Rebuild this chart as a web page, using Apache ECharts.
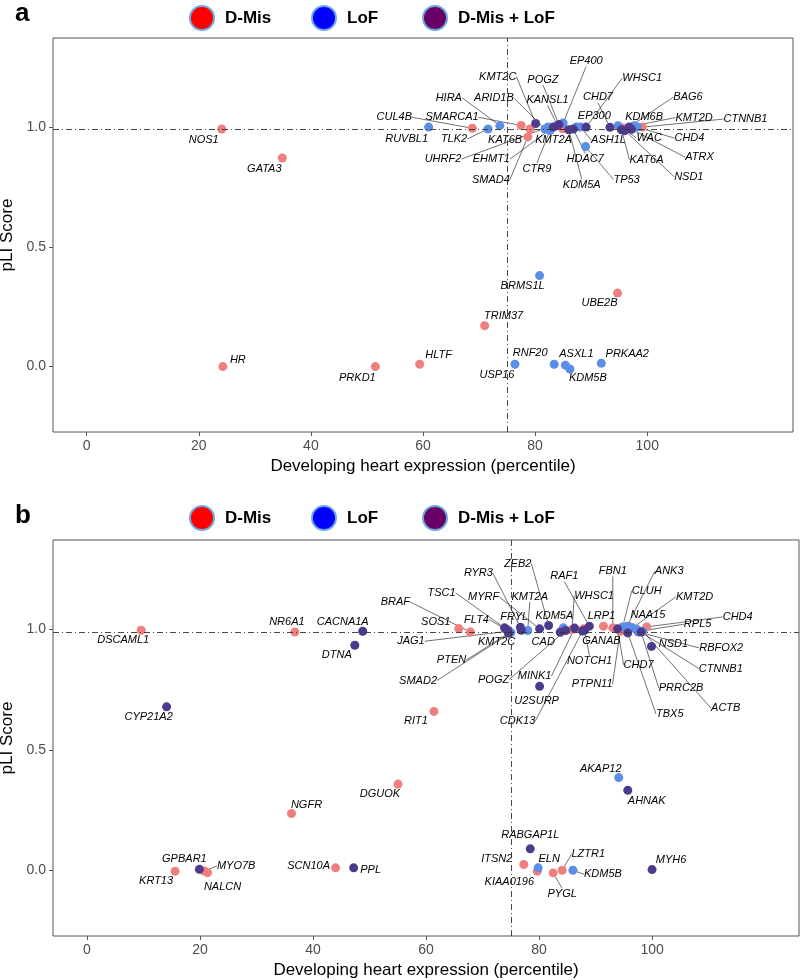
<!DOCTYPE html>
<html>
<head>
<meta charset="utf-8">
<script src="https://cdn.jsdelivr.net/npm/echarts@6/dist/echarts.min.js"></script>
<style>
  html, body { margin: 0; padding: 0; background: #fff; }
  #chart { width: 800px; height: 980px; }
</style>
</head>
<body>
<div id="chart"></div>
<script>
const M = 'D-Mis', L = 'LoF', B = 'D-Mis + LoF';
const classes = [M, L, B];
const xTicks = [0, 20, 40, 60, 80, 100];
const yTicks = [0, 0.5, 1.0];
const pliCutoff = 0.99;
const expressionCutoff = 75;

// panel a
const genesA = ['NOS1', 'GATA3', 'HR', 'PRKD1', 'HLTF', 'TRIM37', 'BRMS1L', 'UBE2B', 'USP16', 'RNF20',
  'ASXL1', 'KDM5B', 'PRKAA2', 'RUVBL1', 'CUL4B', 'TLK2', 'HIRA', 'SMARCA1', 'KMT2C', 'KAT6B',
  'SMAD4', 'ARID1B', 'UHRF2', 'EHMT1', 'KANSL1', 'POGZ', 'EP400', 'KMT2A', 'CTR9', 'KDM5A',
  'HDAC7', 'EP300', 'ASH1L', 'WHSC1', 'TP53', 'CHD7', 'KDM6B', 'KAT6A', 'WAC', 'NSD1',
  'BAG6', 'ATRX', 'KMT2D', 'CHD4', 'CTNNB1'];
const exprA = [24.1, 34.9, 24.3, 51.5, 59.4, 71.0, 80.8, 94.7, 76.4, 83.4,
  85.4, 86.2, 91.8, 61.0, 68.8, 71.6, 73.7, 77.5, 80.1, 79.1,
  78.7, 81.75, 82.3, 83.25, 84.0, 84.25, 85.0, 84.9, 82.65, 86.0,
  86.8, 87.35, 88.1, 89.1, 89.0, 93.35, 94.8, 95.4, 95.7, 96.0,
  96.75, 97.2, 97.65, 98.25, 99.15];
const pliA = [0.992, 0.871, 0.0, 0.0, 0.01, 0.171, 0.38, 0.307, 0.01, 0.01,
  0.006, -0.01, 0.014, 1.0, 0.995, 0.992, 1.006, 1.007, 1.015, 0.992,
  0.959, 0.992, 1.0, 1.0, 1.006, 1.011, 1.017, 0.993, 0.986, 0.989,
  0.992, 1.0, 1.0, 1.0, 0.919, 0.999, 1.006, 0.989, 0.996, 0.985,
  1.0, 0.991, 1.006, 1.0, 1.0];
const classA = [M, M, M, M, M, M, L, M, L, L,
  L, L, L, L, M, L, L, M, B, M,
  M, L, L, B, B, B, L, M, L, B,
  B, L, L, B, L, B, L, B, M, B,
  B, B, L, L, M];

// panel b
const genesB = ['DSCAML1', 'NR6A1', 'CACNA1A', 'DTNA', 'CYP21A2', 'NGFR', 'DGUOK', 'RIT1', 'KRT13', 'GPBAR1',
  'MYO7B', 'NALCN', 'SCN10A', 'PPL', 'AKAP12', 'AHNAK', 'RABGAP1L', 'ITSN2', 'ELN', 'KIAA0196',
  'PYGL', 'LZTR1', 'KDM5B', 'MYH6', 'U2SURP', 'SOS1', 'BRAF', 'TSC1', 'FLT4', 'JAG1',
  'KMT2C', 'PTEN', 'SMAD2', 'RYR3', 'FRYL', 'KMT2A', 'MYRF', 'ZEB2', 'CAD', 'KDM5A',
  'POGZ', 'WHSC1', 'MINK1', 'CDK13', 'GANAB', 'NOTCH1', 'RAF1', 'LRP1', 'FBN1', 'CHD7',
  'PTPN11', 'CLUH', 'ANK3', 'NAA15', 'TBX5', 'KMT2D', 'CTNNB1', 'RBFOX2', 'RPL5', 'PRRC2B',
  'ACTB', 'CHD4', 'NSD1'];
const exprB = [9.6, 36.8, 48.8, 47.4, 14.1, 36.2, 55.05, 61.4, 15.6, 19.9,
  20.75, 21.35, 44.0, 47.2, 94.1, 95.7, 78.45, 77.3, 79.85, 79.7,
  82.5, 84.1, 86.0, 100.0, 80.1, 65.8, 67.85, 73.9, 74.25, 74.5,
  74.8, 74.6, 75.05, 76.7, 76.85, 78.0, 80.1, 81.7, 83.75, 84.3,
  84.7, 85.85, 86.3, 87.7, 87.85, 88.05, 88.9, 91.4, 93.05, 93.9,
  94.35, 94.8, 95.6, 95.9, 95.7, 96.55, 97.3, 97.55, 97.8, 98.05,
  98.35, 99.05, 99.9];
const pliB = [0.997, 0.99, 0.993, 0.935, 0.679, 0.236, 0.358, 0.66, -0.004, 0.004,
  -0.003, -0.01, 0.01, 0.01, 0.385, 0.332, 0.089, 0.024, 0.01, -0.004,
  -0.011, 0.0, 0.0, 0.003, 0.764, 1.004, 0.99, 1.007, 1.0, 0.993,
  0.989, 0.985, 0.9875, 1.01, 0.997, 0.996, 1.003, 1.017, 0.989, 1.007,
  0.996, 1.0, 1.006, 0.994, 1.003, 0.997, 1.014, 1.014, 1.007, 1.003,
  0.993, 1.011, 1.014, 1.014, 0.986, 1.007, 1.0, 0.99, 0.993, 0.99,
  0.993, 1.011, 0.93];
const classB = [M, M, B, B, B, M, M, M, M, B,
  M, M, M, B, L, B, B, M, L, M,
  M, M, L, B, B, M, M, B, B, B,
  L, B, L, B, B, L, B, B, B, L,
  B, M, B, B, M, B, B, M, M, B,
  M, L, L, M, B, L, L, L, L, B,
  L, M, B];

// label placement (pixel offsets of the label centre from its point), kept apart from the data
const labelOffsetA = {
  NOS1: [-18, 11], GATA3: [-18, 11], HR: [15, -7], PRKD1: [-18, 11], HLTF: [19, -9],
  TRIM37: [19, -10], BRMS1L: [-17, 10], UBE2B: [-18, 10], USP16: [-18, 11], RNF20: [-24, -11],
  ASXL1: [11, -11], KDM5B: [18, 9], PRKAA2: [26, -9], RUVBL1: [-22, 12], CUL4B: [-78, -11],
  TLK2: [-34, 10], HIRA: [-51, -28], SMARCA1: [-69, -8], KMT2C: [-38, -47], KAT6B: [-25, 11],
  SMAD4: [-37, 43], ARID1B: [-51, -31], UHRF2: [-105, 32], EHMT1: [-62, 32], KANSL1: [-10, -26],
  POGZ: [-16, -45], EP400: [23, -62], KMT2A: [-9, 11], CTR9: [-13, 38], KDM5A: [13, 55],
  HDAC7: [12, 30], EP300: [18, -11], ASH1L: [28, 13], WHSC1: [56, -49], TP53: [41, 33],
  CHD7: [-12, -30], KDM6B: [26, -9], KAT6A: [25, 30], WAC: [26, 10], NSD1: [64, 46],
  BAG6: [59, -30], ATRX: [68, 28], KMT2D: [60, -8], CHD4: [52, 11], CTNNB1: [103, -8]
};
const labelOffsetB = {
  DSCAML1: [-18, 10], NR6A1: [-8, -10], CACNA1A: [-20, -9], DTNA: [-18, 10], CYP21A2: [-18, 10],
  NGFR: [15, -9], DGUOK: [-18, 10], RIT1: [-18, 10], KRT13: [-19, 10], GPBAR1: [-15, -10],
  MYO7B: [32, -5], NALCN: [15, 14], SCN10A: [-27, -2], PPL: [17, 2], AKAP12: [-18, -9],
  AHNAK: [19, 11], RABGAP1L: [0, -14], ITSN2: [-27, -6], ELN: [11, -9], KIAA0196: [-28, 11],
  PYGL: [9, 21], LZTR1: [26, -16], KDM5B: [30, 4], MYH6: [19, -10], U2SURP: [-3, 15],
  SOS1: [-23, -7], BRAF: [-75, -30], TSC1: [-63, -35], FLT4: [-30, -10], JAG1: [-97, 10],
  KMT2C: [-13, 10], PTEN: [-57, 27], SMAD2: [-93, 48], RYR3: [-42, -54], FRYL: [-7, -13],
  KMT2A: [2, -34], MYRF: [-56, -32], ZEB2: [-31, -62], CAD: [-17, 10], KDM5A: [-9, -12],
  POGZ: [-72, 49], WHSC1: [22, -34], MINK1: [-40, 48], CDK13: [-65, 90], GANAB: [18, 12],
  NOTCH1: [5, 31], RAF1: [-25, -50], LRP1: [-2, -10], FBN1: [0, -57], CHD7: [21, 36],
  PTPN11: [-28, 53], CLUH: [24, -36], ANK3: [42, -55], NAA15: [19, -11], TBX5: [42, 81],
  KMT2D: [62, -31], CTNNB1: [84, 39], RBFOX2: [83, 16], RPL5: [58, -7], PRRC2B: [40, 56],
  ACTB: [83, 77], CHD4: [91, -10], NSD1: [22, -2]
};

const pointColors = ['#EF7F7F', '#5B8EE6', '#4E3A8C'];
const legendColors = ['#FF0000', '#0000FF', '#660066'];
const legendLeft = [189, 311, 422];
const font = 'Liberation Sans, Arial, Helvetica, sans-serif';

// draw a leader segment only when the label sits clearly away from its point
function needsSegment(name, off) {
  const gx = Math.max(0, Math.abs(off[0]) - name.length * 3.5);
  const gy = Math.max(0, Math.abs(off[1]) - 6);
  return Math.hypot(gx, gy) - 4.5 > 7;
}

function panelSeries(p, genes, xs, ys, cls, offsets) {
  return classes.map(function (c, ci) {
    const idx = genes.map((g, i) => i).filter(i => cls[i] === c);
    const offs = idx.map(i => offsets[genes[i]] || [0, -12]);
    const s = {
      type: 'scatter',
      name: c,
      xAxisIndex: p,
      yAxisIndex: p,
      symbolSize: 9,
      itemStyle: { color: pointColors[ci], opacity: 1 },
      label: {
        show: true, position: 'inside', formatter: q => q.name,
        fontSize: 11, fontStyle: 'italic', color: '#000', fontFamily: font
      },
      labelLine: { show: true, length2: 0, lineStyle: { color: '#111', width: 0.6 } },
      labelLayout: q => ({ dx: offs[q.dataIndex][0], dy: offs[q.dataIndex][1] }),
      emphasis: { disabled: true },
      data: idx.map((i, k) => ({
        name: genes[i],
        value: [xs[i], ys[i]],
        labelLine: { show: needsSegment(genes[i], offs[k]) }
      }))
    };
    if (ci === 0) {
      s.markLine = {
        silent: true,
        symbol: ['none', 'none'],
        label: { show: false },
        lineStyle: { color: '#333', width: 0.9, type: [6, 3, 1, 3] },
        data: [{ xAxis: expressionCutoff }, { yAxis: pliCutoff }]
      };
    }
    return s;
  });
}

const grids = [
  { left: 53, top: 38, width: 740, height: 394 },
  { left: 53, top: 540, width: 746, height: 396 }
];

const legends = [];
[0, 500].forEach(top => {
  classes.forEach((c, i) => {
    legends.push({
      top: top,
      left: legendLeft[i],
      padding: 5,
      itemWidth: 24,
      itemHeight: 26,
      icon: 'circle',
      selectedMode: false,
      textStyle: { fontSize: 17, fontWeight: 'bold', color: '#000', fontFamily: font, padding: [0, 0, 0, 6] },
      data: [{ name: c, itemStyle: { color: legendColors[i], borderColor: '#6FA8DC', borderWidth: 2 } }]
    });
  });
});

const option = {
  animation: false,
  backgroundColor: '#fff',
  title: [
    { text: 'a', left: 10, top: -4, textStyle: { fontSize: 26, fontWeight: 'bold', color: '#000', fontFamily: font } },
    { text: 'b', left: 10, top: 498, textStyle: { fontSize: 26, fontWeight: 'bold', color: '#000', fontFamily: font } }
  ],
  legend: legends.map(l => Object.assign(l, { left: l.left - 5 })),
  grid: grids.map(g => Object.assign({
    show: true, borderColor: '#555', borderWidth: 1, backgroundColor: 'transparent',
    containLabel: false, outerBoundsMode: 'none'
  }, g)),
  xAxis: [0, 1].map(p => ({
    type: 'value',
    gridIndex: p,
    min: -6,
    max: 126,
    name: 'Developing heart expression (percentile)',
    nameLocation: 'middle',
    nameGap: 26,
    nameTextStyle: { fontSize: 17, color: '#000', fontFamily: font },
    axisLine: { show: false, onZero: false },
    splitLine: { show: false },
    axisTick: { show: true, length: 4, lineStyle: { color: '#555' }, customValues: xTicks },
    axisLabel: { color: '#4d4d4d', fontSize: 14, margin: 7, fontFamily: font, customValues: xTicks }
  })),
  yAxis: [0, 1].map(p => ({
    type: 'value',
    gridIndex: p,
    min: -0.273,
    max: 1.372,
    name: 'pLI Score',
    nameLocation: 'middle',
    nameGap: 34,
    nameTextStyle: { fontSize: 17, color: '#000', fontFamily: font },
    axisLine: { show: false, onZero: false },
    splitLine: { show: false },
    axisTick: { show: true, length: 4, lineStyle: { color: '#555' }, customValues: yTicks },
    axisLabel: {
      color: '#4d4d4d', fontSize: 14, margin: 7, fontFamily: font,
      customValues: yTicks, formatter: v => v.toFixed(1)
    }
  })),
  series: panelSeries(0, genesA, exprA, pliA, classA, labelOffsetA)
    .concat(panelSeries(1, genesB, exprB, pliB, classB, labelOffsetB))
};

const chart = echarts.init(document.getElementById('chart'));
chart.setOption(option);
</script>
</body>
</html>
